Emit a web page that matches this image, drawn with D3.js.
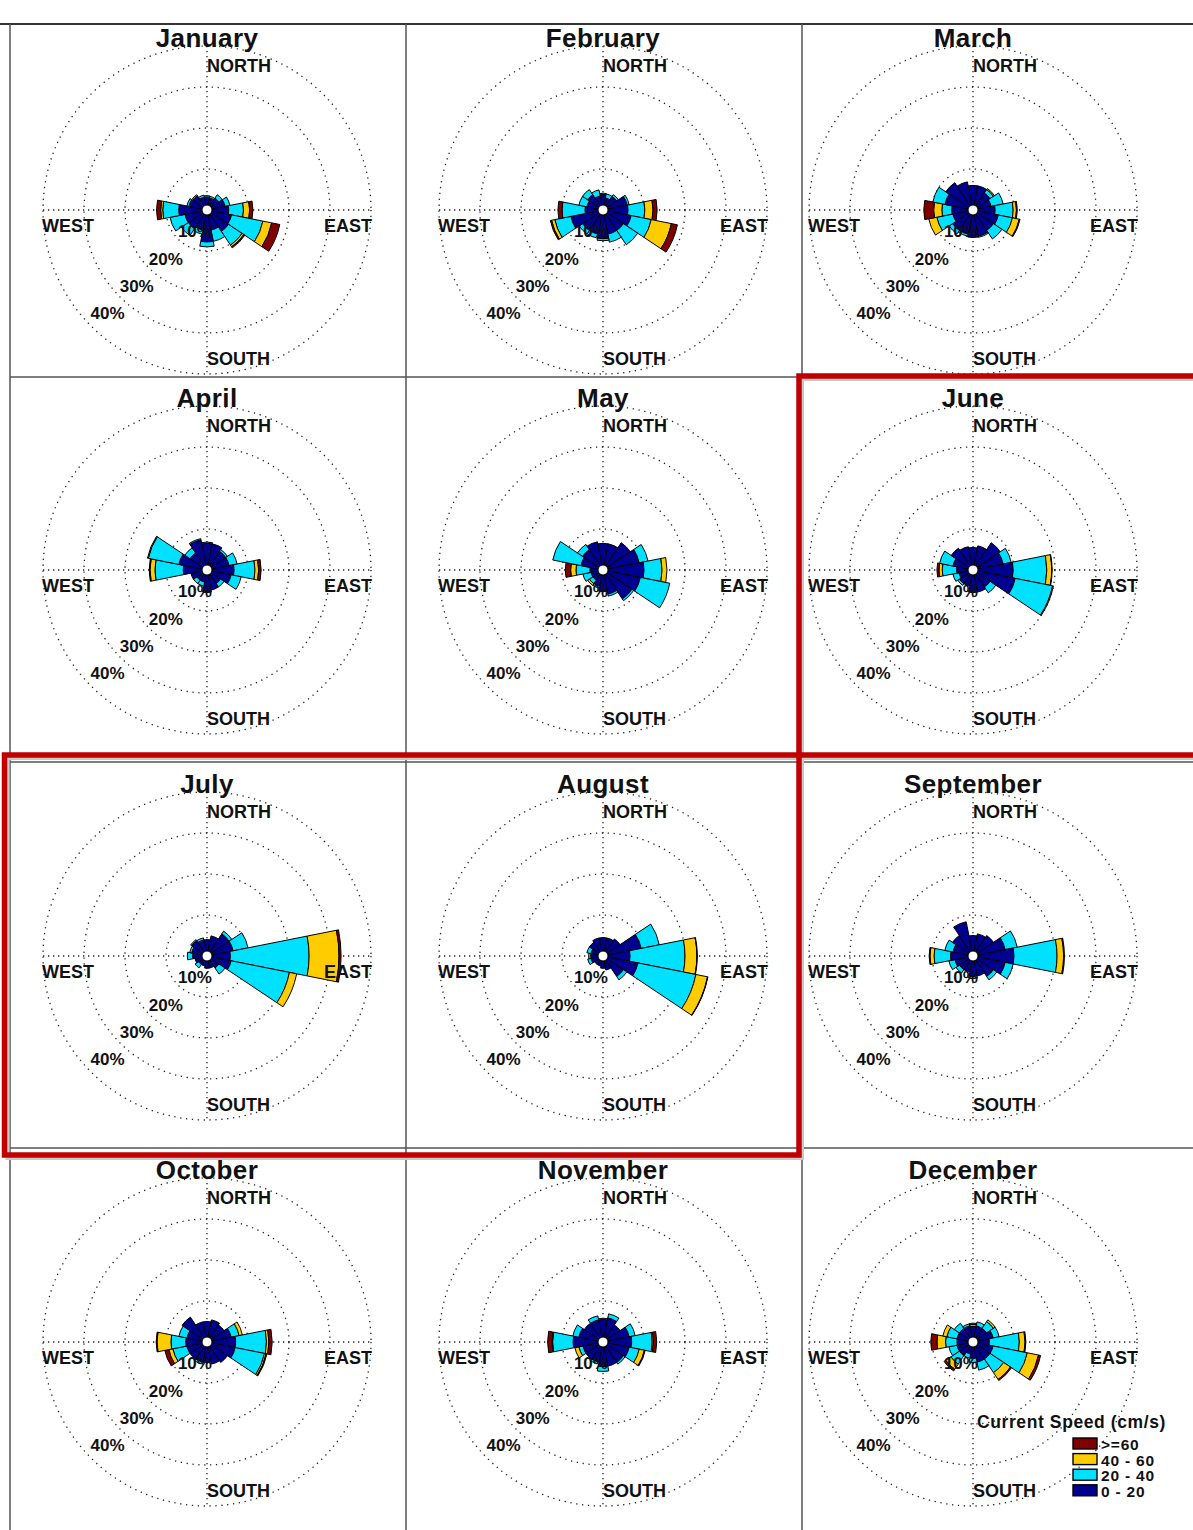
<!DOCTYPE html>
<html><head><meta charset="utf-8">
<script src="https://cdn.jsdelivr.net/npm/d3@7"></script>
<style>
body{margin:0;background:#fff}
svg{display:block}
text{font-family:"Liberation Sans",Arial,Helvetica,sans-serif;font-weight:bold;fill:#111}
</style>
</head><body>
<svg id="chart" width="1193" height="1530"></svg>
<script>
// ---------- data ----------
const months = ["January","February","March","April","May","June","July","August","September","October","November","December"];
const directions = ["N","NNE","NE","ENE","E","ESE","SE","SSE","S","SSW","SW","WSW","W","WNW","NW","NNW"];
const speedClasses = ["0 - 20","20 - 40","40 - 60",">=60"];
const speedColors = ["#00008f","#00e1ff","#ffcc00","#800000"];
const ringTicks = [10,20,30,40];
const ringLabels = ["10%","20%","30%","40%"];
const compassLabels = ["NORTH","EAST","SOUTH","WEST"];
const legendTitle = "Current Speed (cm/s)";

// percent of time per direction (N clockwise), per speed class [0-20, 20-40, 40-60, >=60]
const janData = [[3.2,0.3,0,0],[3.0,0.4,0,0],[3.5,1.0,0,0],[4.5,1.2,0,0],[5.3,3.6,1.5,0.8],[6.1,7.8,2.2,2.0],[6.3,4.0,0.5,0.3],[5.0,2.8,0,0],[7.8,1.2,0,0],[5.0,1.0,0,0],[5.5,2.0,0,0],[5.5,3.7,0,0],[6.9,3.9,0.5,1.0],[4.5,0.5,0,0],[4.2,0.3,0,0],[3.2,0.5,0,0]];
const febData = [[3.8,0.3,0,0],[3.0,1.0,0,0],[4.0,0.5,0,0],[6.0,0.5,0,0],[6.1,4.1,2.0,1.0],[7.0,5.0,5.0,1.5],[6.0,4.2,0,0],[6.0,2.0,0,0],[7.0,0.5,0,0],[6.0,1.0,0,0],[6.0,1.0,0,0],[8.0,4.0,0.8,0.3],[4.4,5.6,0,1.0],[4.0,2.0,0,0],[4.5,1.5,0,0],[3.5,1.5,0,0]];
const marData = [[6.0,0,0,0],[6.0,0,0,0],[5.0,1.0,0.3,0],[4.5,3.0,0,0],[5.4,4.4,0.8,0.2],[6.3,3.5,1.7,0.2],[6.0,2.5,0,0],[6.5,0.3,0,0],[6.7,0,0,0],[6.0,0.5,0,0],[6.0,1.0,0,0],[5.0,4.0,2.0,0],[5.2,2.4,2.0,2.4],[7.0,3.0,0,0],[8.0,0,0,0],[7.0,0,0,0]];
const aprData = [[6.5,0.3,0,0],[6.5,0,0,0],[5.5,0.5,0,0],[5.5,2.0,0,0],[6.6,5.1,0.9,0.6],[6.0,2.5,0,0],[4.0,1.0,0,0],[5.0,0,0,0],[5.5,0,0,0],[3.0,1.0,0,0],[3.0,1.0,0,0],[4.0,0,0,0],[5.8,6.9,1.2,0.2],[7.0,7.6,0.2,0],[5.0,1.5,0,0],[7.5,0.3,0,0]];
const mayData = [[6.5,0,0,0],[6.5,0,0,0],[8.0,0,0,0],[9.0,2.2,0,0],[10.0,4.4,1.2,0],[9.3,7.3,0,0],[8.5,0.5,0,0],[6.0,0.5,0,0],[5.3,0,0,0],[4.0,0.5,0,0],[3.0,1.0,0.5,0],[3.0,2.0,0,0],[3.2,3.4,1.3,1.3],[5.5,7.0,0,0],[6.0,1.5,0,0],[7.0,0,0,0]];
const junData = [[5.5,0,0,0],[6.0,0,0,0],[8.0,0,0,0],[7.5,2.0,0,0],[9.8,8.2,1.2,0.1],[10.5,9.3,0.2,0],[5.0,1.7,0,0],[5.5,0,0,0],[5.5,0,0,0],[4.0,0,0,0],[4.0,0.5,0,0],[3.5,1.5,0,0],[4.0,3.5,0.8,0.5],[5.0,3.3,0,0],[6.4,0,0,0],[5.8,0,0,0]];
const julData = [[4.0,0,0,0],[5.0,0,0,0],[6.5,0.8,0,0],[6.5,3.7,0,0],[5.7,19.2,7.3,0.5],[6.0,14.5,1.8,0],[3.5,1.8,0,0],[3.0,0,0,0],[3.0,0,0,0],[2.5,0,0,0],[2.5,1.0,0,0],[3.0,0,0,0],[3.5,1.3,0,0],[3.8,0.5,0,0],[4.5,0.3,0,0],[4.0,0.5,0,0]];
const augData = [[4.5,0,0,0],[4.5,0,0,0],[5.0,0,0,0],[9.5,4.5,0,0],[6.6,13.4,2.9,0.1],[8.7,14.4,2.9,0.1],[6.0,1.0,0,0],[3.5,0,0,0],[3.0,0,0,0],[2.5,0,0,0],[2.5,0,0,0],[3.0,0.8,0,0],[3.0,0.5,0,0],[3.0,1.0,0,0],[4.0,0,0,0],[4.5,0,0,0]];
const sepData = [[5.0,0,0,0],[5.5,0,0,0],[6.0,0,0,0],[8.0,3.0,0,0],[10.0,10.5,1.6,0.2],[8.0,2.0,0,0],[6.0,1.0,0,0],[5.0,0,0,0],[5.0,0.5,0,0],[4.0,0,0,0],[4.0,1.0,0,0],[4.5,1.5,0,0],[5.5,4.0,1.0,0.2],[5.0,2.0,0,0],[6.0,0,0,0],[8.5,0,0,0]];
const octData = [[5.0,0,0,0],[5.5,0,0,0],[5.0,0,0,0],[6.0,2.0,0.8,0],[7.0,7.5,0.6,0.8],[7.0,7.3,0.4,0.2],[6.0,0,0,0],[5.5,0,0,0],[5.0,0,0,0],[5.0,0.5,0,0],[5.0,0,0,0],[5.0,3.5,1.0,1.0],[5.2,3.6,3.4,0.2],[5.0,2.0,0,0],[7.3,0,0,0],[5.0,0,0,0]];
const novData = [[5.5,0.3,0,0],[6.0,1.0,0,0],[5.0,0,0,0],[6.5,1.5,0,0],[7.0,5.0,0.3,0.8],[6.5,2.5,1.3,0.2],[6.0,0.5,0,0],[6.0,0,0,0],[6.0,1.2,0,0],[5.0,0.5,0,0],[5.0,0,0,0],[5.0,1.0,1.0,0],[7.3,5.0,0.2,1.0],[6.0,1.5,0,0],[5.5,0,0,0],[5.5,1.0,0,0]];
const decData = [[3.8,0.5,0.3,0],[4.0,1.0,0,0],[4.0,2.0,0.5,0],[5.0,1.5,0,0],[4.0,7.3,1.4,0.2],[5.0,8.5,2.8,0.5],[5.0,4.0,2.0,0.3],[5.0,2.0,0,0],[4.0,1.0,0,0],[3.0,1.0,0,0],[4.0,2.5,1.5,0.5],[4.0,2.0,0,0],[3.9,2.8,2.1,1.5],[4.0,2.5,1.0,0],[4.0,1.5,0,0],[4.0,0.5,0,0]];
const monthData = [janData,febData,marData,aprData,mayData,junData,julData,augData,sepData,octData,novData,decData];

// ---------- layout ----------
const W = 1193, H = 1530;
const colCx = [207, 603, 973];
const rowCy = [210, 570, 956, 1342];
const gridX = [10, 406, 802];
const gridY = [377, 762, 1148];
const topLineY = 24;
const R = 164;

const svg = d3.select("#chart");

const rScale = d3.scaleLinear().domain([0, 40]).range([0, R]);
const aScale = d3.scaleLinear().domain([0, directions.length]).range([0, 2 * Math.PI]);
const halfStep = (aScale(1) - aScale(0)) / 2;
const arc = d3.arc();

// panel borders
const border = svg.append("g");
border.append("line").attr("x1", 0).attr("x2", W).attr("y1", topLineY).attr("y2", topLineY)
  .attr("stroke", "#333").attr("stroke-width", 2);
gridX.forEach(x => border.append("line").attr("x1", x).attr("x2", x).attr("y1", topLineY).attr("y2", H)
  .attr("stroke", "#555").attr("stroke-width", 1.5));
gridY.forEach(y => border.append("line").attr("x1", gridX[0]).attr("x2", W).attr("y1", y).attr("y2", y)
  .attr("stroke", "#555").attr("stroke-width", 1.5));

// roses
months.forEach((m, i) => {
  const cx = colCx[i % 3], cy = rowCy[Math.floor(i / 3)];
  const g = svg.append("g").attr("transform", `translate(${cx},${cy})`);

  // dotted rings and axes
  g.selectAll("circle.ring").data(ringTicks).join("circle")
    .attr("r", d => rScale(d)).attr("fill", "none")
    .attr("stroke", "#222").attr("stroke-width", 1.3).attr("stroke-dasharray", "1.3 4.6");
  g.append("line").attr("x1", -rScale(40)).attr("x2", rScale(40)).attr("y1", 0).attr("y2", 0)
    .attr("stroke", "#222").attr("stroke-width", 1.3).attr("stroke-dasharray", "1.3 3.7");
  g.append("line").attr("y1", -rScale(40)).attr("y2", rScale(40)).attr("x1", 0).attr("x2", 0)
    .attr("stroke", "#222").attr("stroke-width", 1.3).attr("stroke-dasharray", "1.3 3.7");

  // stacked sectors
  const segs = [];
  monthData[i].forEach((vals, d) => {
    let cum = 0;
    vals.forEach((v, k) => {
      if (v > 0) segs.push({d, k, r0: cum, r1: cum + v});
      cum += v;
    });
  });
  g.selectAll("path.seg").data(segs).join("path")
    .attr("d", s => arc({
      innerRadius: rScale(s.r0), outerRadius: rScale(s.r1),
      startAngle: aScale(s.d) - halfStep, endAngle: aScale(s.d) + halfStep
    }))
    .attr("fill", s => speedColors[s.k])
    .attr("stroke", "#000").attr("stroke-width", 1).attr("stroke-linejoin", "round");

  g.append("circle").attr("r", 5).attr("fill", "#fff").attr("stroke", "#000").attr("stroke-width", 1);

  // compass labels
  const fs = 18;
  g.append("text").text(compassLabels[0]).attr("x", 0).attr("y", -138).attr("font-size", fs);
  g.append("text").text(compassLabels[2]).attr("x", 0).attr("y", 155).attr("font-size", fs);
  g.append("text").text(compassLabels[1]).attr("x", R + 1).attr("y", 22).attr("font-size", fs).attr("text-anchor", "end");
  g.append("text").text(compassLabels[3]).attr("x", -R - 1).attr("y", 22).attr("font-size", fs);

  // ring labels
  g.selectAll("text.pct").data(ringTicks).join("text")
    .text((d, j) => ringLabels[j])
    .attr("x", d => -rScale(d) * 0.71)
    .attr("y", d => rScale(d) * 0.667)
    .attr("font-size", 17);

  // title
  g.append("text").text(m).attr("x", 0).attr("y", -163).attr("text-anchor", "middle")
    .attr("font-size", 26).attr("letter-spacing", 0.4);
});

// highlight boxes
const boxes = [
  {x: 799, y: 376, w: 420, h: 379},
  {x: 4.5, y: 755, w: 794.5, h: 400}
];
svg.selectAll("rect.shadow").data(boxes).join("rect")
  .attr("x", d => d.x + 3).attr("y", d => d.y + 3).attr("width", d => d.w).attr("height", d => d.h)
  .attr("fill", "none").attr("stroke", "#c8c8c8").attr("stroke-width", 4);
svg.selectAll("rect.box").data(boxes).join("rect")
  .attr("x", d => d.x).attr("y", d => d.y).attr("width", d => d.w).attr("height", d => d.h)
  .attr("fill", "none").attr("stroke", "#c00000").attr("stroke-width", 5.5);

// legend
const lg = svg.append("g");
lg.append("text").text(legendTitle).attr("x", 977).attr("y", 1428).attr("font-size", 17.5)
  .attr("letter-spacing", 0.6);
const legendOrder = d3.range(speedClasses.length).reverse();
lg.selectAll("rect.sw").data(legendOrder).join("rect")
  .attr("x", 1073).attr("y", (d, j) => 1438 + j * 15.6).attr("width", 24).attr("height", 11)
  .attr("fill", d => speedColors[d]).attr("stroke", "#000").attr("stroke-width", 1.4);
lg.selectAll("text.lab").data(legendOrder).join("text")
  .text(d => speedClasses[d])
  .attr("x", 1101).attr("y", (d, j) => 1450 + j * 15.6).attr("font-size", 15.5)
  .attr("letter-spacing", 0.8);
</script>
</body></html>
